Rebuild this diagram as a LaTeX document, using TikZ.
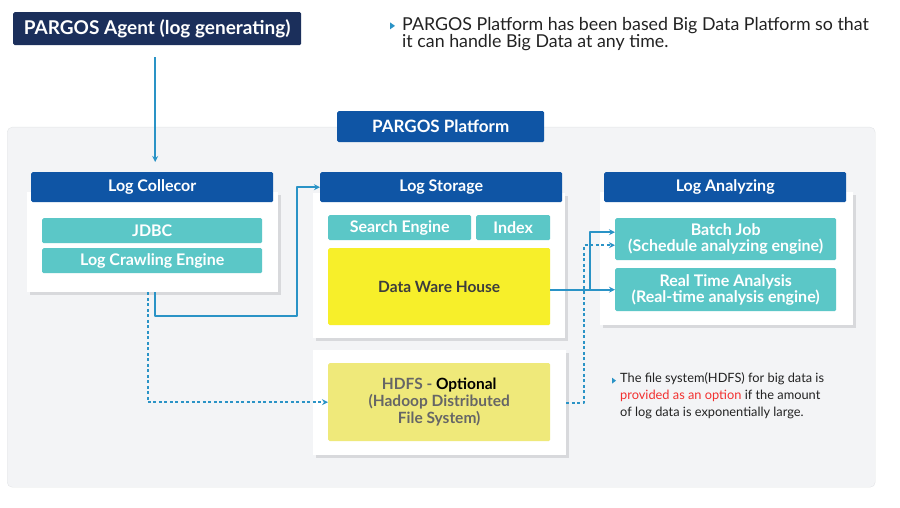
\documentclass[tikz,border=0pt]{standalone}
\usepackage{fontspec}
\setmainfont{Lato}
\usetikzlibrary{arrows.meta,positioning,shadows}

\definecolor{agentnavy}{HTML}{1B2F5B}
\definecolor{headblue}{HTML}{0F55A5}
\definecolor{tealfill}{HTML}{5BC7C7}
\definecolor{dwhyellow}{HTML}{F7EF2A}
\definecolor{hdfsyellow}{HTML}{EFE97A}
\definecolor{platbg}{HTML}{F3F4F6}
\definecolor{platline}{HTML}{E2E4E7}
\definecolor{shadegray}{HTML}{D8D9DC}
\definecolor{linecol}{HTML}{2A93C6}
\definecolor{desctext}{HTML}{222222}
\definecolor{dwhtext}{HTML}{3D3D3D}
\definecolor{hdfsgray}{HTML}{666666}
\definecolor{optred}{HTML}{F2302F}

\begin{document}
\begin{tikzpicture}[x=1pt,y=-1pt,line join=round,
  box/.style={inner sep=0pt,anchor=north west,align=center},
  header/.style={box,fill=headblue,text=white,font=\fontsize{16}{18}\selectfont\bfseries,minimum width=242pt,minimum height=30pt,rounded corners=1.5pt},
  panel/.style={box,fill=white,drop shadow={shadow xshift=3pt,shadow yshift=-3pt,fill=shadegray,opacity=1}},
  tealbox/.style={box,fill=tealfill,text=white,font=\fontsize{16}{16}\selectfont\bfseries,rounded corners=1.5pt},
  flow/.style={draw=linecol,line width=2pt,-{Stealth[length=6pt,width=6pt]}},
  optflow/.style={flow,dash pattern=on 3pt off 2.5pt}]

  \useasboundingbox (0,0) rectangle (900,508);

  % platform area
  \node[box,fill=platbg,draw=platline,rounded corners=5pt,minimum width=868pt,minimum height=360pt] (plat) at (7,127) {};
  \node[box,fill=headblue,text=white,font=\fontsize{17}{19}\selectfont\bfseries,minimum width=207pt,minimum height=31pt,rounded corners=1.5pt] (ptab) at (337,111) {PARGOS Platform};

  % agent
  \node[box,fill=agentnavy,text=white,font=\fontsize{19}{20}\selectfont\bfseries,minimum width=288pt,minimum height=33pt,rounded corners=1.5pt] (agent) at (13,12) {PARGOS Agent (log generating)};

  % panels
  \node[panel,minimum width=251pt,minimum height=100pt] (lc) at (27,192) {};
  \node[panel,minimum width=252pt,minimum height=145pt] (ls) at (313,193) {};
  \node[panel,minimum width=253pt,minimum height=133pt] (la) at (600,192) {};
  \node[panel,minimum width=253pt,minimum height=105pt] (hd) at (313,350) {};

  % headers
  \node[header] (lch) at (31,172) {Log Collecor};
  \node[header] (lsh) at (320,172) {Log Storage};
  \node[header] (lah) at (604,172) {Log Analyzing};

  % inner boxes
  \node[tealbox,minimum width=220pt,minimum height=25pt] (jdbc) at (42,218) {JDBC};
  \node[tealbox,minimum width=220pt,minimum height=25pt] (crawl) at (42,248) {Log Crawling Engine};
  \node[tealbox,minimum width=143pt,minimum height=25pt] (search) at (328,215) {Search Engine};
  \node[tealbox,minimum width=74pt,minimum height=25pt] (index) at (476,215) {Index};
  \node[box,fill=dwhyellow,text=dwhtext,font=\fontsize{15.5}{17}\selectfont\bfseries,minimum width=222pt,minimum height=77pt,rounded corners=1.5pt] (dwh) at (328,248) {Data Ware House};
  \node[tealbox,minimum width=221pt,minimum height=42pt] (bj) at (615,218) {Batch Job\\(Schedule analyzing engine)};
  \node[tealbox,minimum width=221pt,minimum height=43pt] (rta) at (615,268) {Real Time Analysis\\(Real-time analysis engine)};
  \node[box,fill=hdfsyellow,text=hdfsgray,font=\fontsize{15.5}{17}\selectfont\bfseries,minimum width=222pt,minimum height=78pt,rounded corners=1.5pt] (hdfs) at (328,363) {HDFS - \textcolor{black}{Optional}\\(Hadoop Distributed\\File System)};

  % notes
  \node[anchor=west,inner sep=0pt,align=left,text=desctext,font=\fontsize{17.8}{16.5}\selectfont] (desc) at (402,34) {PARGOS Platform has been based Big Data Platform so that\\it can handle Big Data at any time.};
  \node[anchor=west,inner sep=0pt,align=left,text=desctext,font=\fontsize{12.8}{17}\selectfont] (note) at (620,396) {The file system(HDFS) for big data is\\\textcolor{optred}{provided as an option} if the amount\\of log data is exponentially large.};
  \fill[linecol] ([xshift=-12pt,yshift=-5pt]desc.north west) -- ++(5,3.5) -- ++(-5,3.5) -- cycle;
  \fill[linecol] ([xshift=-8pt,yshift=-5pt]note.north west) -- ++(4,3) -- ++(-4,3) -- cycle;

  % connectors
  \draw[flow] ([xshift=-2pt,yshift=-12pt]agent.south) -- ([xshift=-2pt,yshift=10pt]agent.south |- lch.north);
  \draw[flow] ([xshift=2.5pt]lc.south) -- ++(0,24) -| ([xshift=-23pt]lsh.west) -- (lsh.west);
  \draw[optflow] ([xshift=-5pt]lc.south) |- (hdfs.west);
  \draw[flow] (rta.west -| dwh.east) -- (rta.west);
  \draw[flow] ([xshift=40pt]rta.west -| dwh.east) |- ([yshift=7pt]bj.west);
  \draw[optflow] (hd.east) -- ++(18,0) |- ([yshift=-6pt]bj.west);
\end{tikzpicture}
\end{document}
